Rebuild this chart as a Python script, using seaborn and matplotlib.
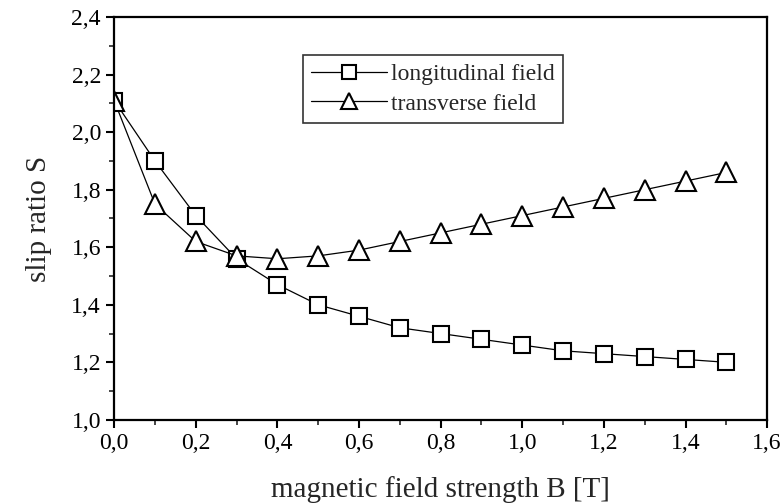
import matplotlib
matplotlib.use("Agg")
import matplotlib.pyplot as plt
import seaborn as sns
import pandas as pd
from matplotlib.ticker import MultipleLocator, FuncFormatter

B = [0.0, 0.1, 0.2, 0.3, 0.4, 0.5, 0.6, 0.7, 0.8, 0.9, 1.0, 1.1, 1.2, 1.3, 1.4, 1.5]
longitudinal = [2.11, 1.90, 1.71, 1.56, 1.47, 1.40, 1.36, 1.32, 1.30, 1.28, 1.26, 1.24, 1.23, 1.22, 1.21, 1.20]
transverse = [2.11, 1.75, 1.62, 1.57, 1.56, 1.57, 1.59, 1.62, 1.65, 1.68, 1.71, 1.74, 1.77, 1.80, 1.83, 1.86]
series_names = ["longitudinal field", "transverse field"]

df = pd.concat([
    pd.DataFrame({"B": B, "S": longitudinal, "series": series_names[0]}),
    pd.DataFrame({"B": B, "S": transverse, "series": series_names[1]}),
])

sns.set_style("ticks")
plt.rcParams["font.family"] = ["Liberation Serif", "DejaVu Serif"]

fig = plt.figure(figsize=(7.82, 5.04), dpi=100)
ax = fig.add_axes([0.146, 0.167, 0.835, 0.799])

sns.lineplot(data=df, x="B", y="S", hue="series", style="series",
             palette=["black", "black"], markers=["s", "^"], dashes=False,
             markersize=12, markerfacecolor="white", markeredgecolor="black",
             markeredgewidth=1.5, linewidth=0.9, ax=ax)
for ln in ax.lines:
    if ln.get_marker() == "^":
        ln.set_markersize(14)

ax.set_xlim(0, 1.6)
ax.set_ylim(1.0, 2.4)
ax.xaxis.set_major_locator(MultipleLocator(0.2))
ax.xaxis.set_minor_locator(MultipleLocator(0.1))
ax.yaxis.set_major_locator(MultipleLocator(0.2))
ax.yaxis.set_minor_locator(MultipleLocator(0.1))
fmt = FuncFormatter(lambda v, p: f"{v:.1f}".replace(".", ","))
ax.xaxis.set_major_formatter(fmt)
ax.yaxis.set_major_formatter(fmt)
ax.tick_params(which="major", direction="out", length=6, width=1.5, labelsize=17, colors="black")
ax.tick_params(which="minor", direction="out", length=3.5, width=1.2)
for s in ax.spines.values():
    s.set_visible(True)
    s.set_linewidth(1.6)
    s.set_color("black")

ax.set_xlabel("magnetic field strength B [T]", fontsize=21, labelpad=16)
ax.set_ylabel("slip ratio S", fontsize=21, labelpad=14)

leg = ax.legend(loc="upper left", bbox_to_anchor=(0.289, 0.906), borderaxespad=0,
                fontsize=17, frameon=True, fancybox=False, edgecolor="black",
                handlelength=3.2, borderpad=0.35, labelspacing=0.35, handletextpad=0.2,
                markerscale=0.85)
leg.get_frame().set_linewidth(1.2)

fig.savefig("out.png", dpi=100)
